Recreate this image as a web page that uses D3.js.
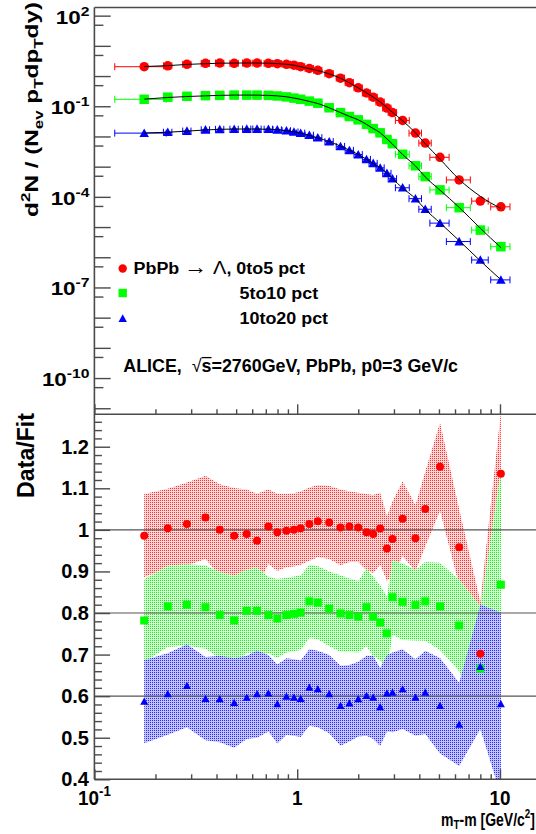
<!DOCTYPE html>
<html><head><meta charset="utf-8">
<script src="https://cdn.jsdelivr.net/npm/d3@7"></script>
<style>
html,body{margin:0;padding:0;background:#fff;}
svg{display:block;}
text{font-family:"Liberation Sans",Arial,Helvetica,sans-serif;font-weight:bold;fill:#000;white-space:pre;}
</style></head><body>
<div id="chart"></div>
<script>
// ---------------- data ----------------
const mtm = [0.176, 0.23, 0.286, 0.353, 0.415, 0.489, 0.564, 0.634, 0.721, 0.798, 0.885, 0.964, 1.04, 1.148, 1.264, 1.438, 1.635, 1.809, 2.0, 2.197, 2.37, 2.565, 2.77, 2.95, 3.31, 3.83, 4.28, 5.06, 6.29, 8.0, 10.1];
const xErr = [0.05, 0.011, 0.0135, 0.0166, 0.0195, 0.023, 0.0265, 0.03, 0.034, 0.0375, 0.042, 0.045, 0.049, 0.054, 0.059, 0.068, 0.077, 0.085, 0.094, 0.10, 0.11, 0.12, 0.13, 0.14, 0.26, 0.27, 0.30, 0.55, 0.85, 0.75, 1.1];

const seriesNames = ["0to5 pct", "5to10 pct", "10to20 pct"];
const seriesColors = ["#ff0000", "#00ff00", "#0000ff"];
const bandBase = ["#ffd6d6", "#d2ffd2", "#c2c2ff"];
const bandDot = ["#ff3030", "#20e620", "#2a2aff"];
const seriesShapes = ["circle", "square", "triangle"];

const spec0to5 = [2.04, 2.19, 2.45, 2.63, 2.69, 2.63, 2.69, 2.69, 2.63, 2.57, 2.45, 2.29, 2.04, 1.78, 1.55, 1.20, 0.851, 0.603, 0.407, 0.275, 0.200, 0.138, 0.0871, 0.0617, 0.0339, 0.0129, 0.00603, 0.00204, 3.63e-4, 7.24e-5, 4.68e-5];
const spec5to10 = [0.170, 0.200, 0.214, 0.224, 0.229, 0.234, 0.234, 0.234, 0.229, 0.219, 0.204, 0.186, 0.170, 0.148, 0.126, 0.0891, 0.0617, 0.0457, 0.0355, 0.0251, 0.0182, 0.0132, 0.00794, 0.00575, 0.00257, 0.00107, 4.68e-4, 1.70e-4, 4.37e-5, 7.94e-6, 2.24e-6];
const spec10to20 = [0.0129, 0.0138, 0.0151, 0.0166, 0.0172, 0.0174, 0.0176, 0.0176, 0.0174, 0.0166, 0.0155, 0.0141, 0.0129, 0.0110, 0.00912, 0.00676, 0.00468, 0.00347, 0.00251, 0.00174, 0.00129, 9.12e-4, 6.03e-4, 3.98e-4, 2.00e-4, 8.71e-5, 3.89e-5, 1.35e-5, 3.31e-6, 8.13e-7, 1.78e-7];

const fit0to5 = [2.07, 2.21, 2.43, 2.57, 2.66, 2.69, 2.71, 2.70, 2.66, 2.58, 2.45, 2.29, 2.04, 1.76, 1.51, 1.18, 0.845, 0.600, 0.406, 0.278, 0.201, 0.138, 0.0902, 0.0631, 0.0331, 0.0132, 0.00575, 0.00178, 3.80e-4, 1.04e-4, 4.12e-5];
const fit5to10 = [0.172, 0.195, 0.210, 0.221, 0.229, 0.234, 0.234, 0.233, 0.229, 0.221, 0.206, 0.187, 0.169, 0.1445, 0.123, 0.0891, 0.0617, 0.0462, 0.0355, 0.0251, 0.0183, 0.0133, 0.00832, 0.00556, 0.00251, 0.00105, 4.57e-4, 1.67e-4, 4.50e-5, 9.12e-6, 2.09e-6];
const fit10to20 = [0.0130, 0.0138, 0.0150, 0.0164, 0.0172, 0.0176, 0.0176, 0.0175, 0.0173, 0.0167, 0.0156, 0.0142, 0.0129, 0.0108, 0.00902, 0.00676, 0.00479, 0.00351, 0.00253, 0.00176, 0.00129, 9.23e-4, 6.03e-4, 3.98e-4, 1.96e-4, 8.73e-5, 3.85e-5, 1.38e-5, 3.56e-6, 7.59e-7, 1.81e-7];

// Data/Fit as plotted (0to5 around 1.0, 5to10 around 0.8, 10to20 around 0.6)
const ratio0to5 = [0.986, 1.004, 1.014, 1.030, 1.000, 0.986, 0.990, 0.974, 1.008, 0.994, 0.998, 1.000, 1.004, 1.014, 1.021, 1.018, 1.006, 1.008, 1.006, 0.994, 0.990, 1.003, 0.955, 0.978, 1.027, 0.980, 1.050, 1.152, 0.958, 0.702, 1.135];
const ratio5to10 = [0.782, 0.816, 0.820, 0.814, 0.795, 0.782, 0.805, 0.805, 0.795, 0.787, 0.795, 0.798, 0.801, 0.828, 0.825, 0.810, 0.799, 0.795, 0.791, 0.814, 0.791, 0.777, 0.751, 0.838, 0.827, 0.819, 0.828, 0.816, 0.770, 0.666, 0.868];
const ratio10to20 = [0.587, 0.605, 0.625, 0.594, 0.593, 0.584, 0.597, 0.605, 0.607, 0.581, 0.599, 0.597, 0.594, 0.621, 0.617, 0.605, 0.577, 0.583, 0.593, 0.601, 0.597, 0.574, 0.607, 0.609, 0.617, 0.597, 0.609, 0.577, 0.532, 0.671, 0.581];

const bandErr0to5 = [0.100, 0.095, 0.100, 0.100, 0.110, 0.115, 0.107, 0.113, 0.090, 0.093, 0.088, 0.088, 0.088, 0.088, 0.087, 0.088, 0.091, 0.085, 0.083, 0.092, 0.094, 0.087, 0.078, 0.091, 0.090, 0.080, 0.090, 0.106, 0.092, 0.125, 0.150];
const bandErr5to10 = [0.100, 0.098, 0.098, 0.100, 0.104, 0.108, 0.100, 0.105, 0.092, 0.095, 0.090, 0.090, 0.090, 0.088, 0.088, 0.090, 0.092, 0.088, 0.086, 0.094, 0.096, 0.090, 0.088, 0.090, 0.092, 0.085, 0.095, 0.105, 0.110, 0.150, 0.280];
const bandErr10to20 = [0.100, 0.098, 0.100, 0.100, 0.104, 0.108, 0.100, 0.105, 0.092, 0.095, 0.092, 0.092, 0.092, 0.092, 0.092, 0.094, 0.096, 0.092, 0.090, 0.096, 0.100, 0.094, 0.092, 0.096, 0.096, 0.092, 0.100, 0.115, 0.100, 0.150, 0.220];

const refLines = [1.0, 0.8, 0.6];
const topTickExps = [2, -1, -4, -7, -10];
const ratioTicks = [0.4, 0.5, 0.6, 0.7, 0.8, 0.9, 1.0, 1.1, 1.2];
const xTickLabels = [[0.1, "10", "-1"], [1, "1", ""], [10, "10", ""]];

const spectra = [spec0to5, spec5to10, spec10to20];
const fits = [fit0to5, fit5to10, fit10to20];
const ratios = [ratio0to5, ratio5to10, ratio10to20];
const bandErrs = [bandErr0to5, bandErr5to10, bandErr10to20];

// ---------------- layout ----------------
const W = 536, H = 834;
const X0 = 94.4, Y0 = 7.5, YM = 414.3, YB = 779.3;
const x = d3.scaleLog().domain([0.1, 20]).range([X0, X0 + 2.301 * 202.8]);
const yTop = d3.scaleLog().domain([Math.pow(10, -11.2), Math.pow(10, 2.27)]).range([YM, Y0]);
const yBot = d3.scaleLinear().domain([0.4, 1.278]).range([YB, YM]);

const svg = d3.select("#chart").append("svg").attr("width", W).attr("height", H);
svg.append("rect").attr("width", W).attr("height", H).attr("fill", "#fff");
const defs = svg.append("defs");
seriesColors.forEach((c, i) => {
  const p = defs.append("pattern").attr("id", "pat" + i).attr("patternUnits", "userSpaceOnUse")
    .attr("width", 2).attr("height", 2);
  p.append("rect").attr("x", 0).attr("y", 0).attr("width", 2).attr("height", 2).attr("fill", bandBase[i]);
  p.append("rect").attr("x", 0).attr("y", 0).attr("width", 1).attr("height", 1).attr("fill", bandDot[i]);
});
defs.append("clipPath").attr("id", "clipTop").append("rect")
  .attr("x", X0).attr("y", Y0).attr("width", W - X0).attr("height", YM - Y0);
defs.append("clipPath").attr("id", "clipBot").append("rect")
  .attr("x", X0).attr("y", YM).attr("width", W - X0).attr("height", YB - YM);

function marker(g, shape, cx, cy, s, color) {
  if (shape === "circle") {
    g.append("circle").attr("cx", cx).attr("cy", cy).attr("r", s / 2).attr("fill", color);
  } else if (shape === "square") {
    g.append("rect").attr("x", cx - s / 2).attr("y", cy - s / 2).attr("width", s).attr("height", s).attr("fill", color);
  } else {
    const h = s * 0.9;
    g.append("path").attr("d", `M${cx},${cy - h * 0.55}L${cx + s / 2},${cy + h * 0.45}L${cx - s / 2},${cy + h * 0.45}Z`).attr("fill", color);
  }
}

// ---------------- top panel ----------------
const gTop = svg.append("g").attr("clip-path", "url(#clipTop)");
spectra.forEach((vals, si) => {
  const col = seriesColors[si];
  const g = gTop.append("g");
  vals.forEach((v, i) => {
    const xl = x(mtm[i] - xErr[i]), xr = x(mtm[i] + xErr[i]), yy = yTop(v);
    g.append("line").attr("x1", xl).attr("x2", xr).attr("y1", yy).attr("y2", yy).attr("stroke", col).attr("stroke-width", 1);
    [xl, xr].forEach(xx => g.append("line").attr("x1", xx).attr("x2", xx).attr("y1", yy - 3.5).attr("y2", yy + 3.5).attr("stroke", col).attr("stroke-width", 1));
  });
  vals.forEach((v, i) => marker(g, seriesShapes[si], x(mtm[i]), yTop(v), 9.5, col));
});
const fitLine = d3.line().x(d => x(d[0])).y(d => yTop(d[1])).curve(d3.curveMonotoneX);
fits.forEach(f => {
  gTop.append("path").attr("d", fitLine(mtm.map((m, i) => [m, f[i]])))
    .attr("fill", "none").attr("stroke", "#000").attr("stroke-width", 1);
});

// ---------------- bottom panel ----------------
const gBot = svg.append("g").attr("clip-path", "url(#clipBot)");
const band = d3.area().x(d => x(d[0])).y0(d => yBot(d[1] - d[2])).y1(d => yBot(d[1] + d[2]));
ratios.forEach((r, si) => {
  gBot.append("path").attr("d", band(mtm.map((m, i) => [m, r[i], bandErrs[si][i]])))
    .attr("fill", `url(#pat${si})`);
});
refLines.forEach(v => gBot.append("line").attr("x1", X0).attr("x2", W).attr("y1", yBot(v)).attr("y2", yBot(v))
  .attr("stroke", "#555").attr("stroke-width", 1.2));
ratios.forEach((r, si) => {
  r.forEach((v, i) => marker(gBot, seriesShapes[si], x(mtm[i]), yBot(v), 8, seriesColors[si]));
});

// ---------------- axes / ticks ----------------
const axCol = "#4a4a4a";
function styleAxis(g) {
  g.select(".domain").remove();
  g.selectAll(".tick line").attr("stroke", axCol).attr("stroke-width", 1.4);
  g.selectAll(".tick text").remove();
}
const decades = d3.range(-11, 3).map(e => Math.pow(10, e));
const fives = d3.range(-11, 2).map(e => 5 * Math.pow(10, e)).filter(v => v >= yTop.domain()[0]);
svg.append("g").attr("transform", `translate(${X0},0)`).call(d3.axisRight(yTop).tickValues(decades).tickSize(16.3).tickFormat("")).call(styleAxis);
svg.append("g").attr("transform", `translate(${X0},0)`).call(d3.axisRight(yTop).tickValues(fives).tickSize(9).tickFormat("")).call(styleAxis);

const rMinor = d3.range(0, 45).map(i => +(0.4 + i * 0.02).toFixed(2)).filter(v => v <= 1.278 && Math.abs(v * 10 - Math.round(v * 10)) > 1e-6);
svg.append("g").attr("transform", `translate(${X0},0)`).call(d3.axisRight(yBot).tickValues(ratioTicks).tickSize(15.7).tickFormat("")).call(styleAxis);
svg.append("g").attr("transform", `translate(${X0},0)`).call(d3.axisRight(yBot).tickValues(rMinor).tickSize(7.5).tickFormat("")).call(styleAxis);

const xMajor = [0.1, 1, 10];
const xMinor = [];
[0.1, 1, 10].forEach(d => { for (let k = 2; k <= 9; k++) xMinor.push(d * k); });
[YM, YB].forEach(yy => {
  svg.append("g").attr("transform", `translate(0,${yy})`).call(d3.axisTop(x).tickValues(xMajor).tickSize(10).tickFormat("")).call(styleAxis);
  svg.append("g").attr("transform", `translate(0,${yy})`).call(d3.axisTop(x).tickValues(xMinor).tickSize(5).tickFormat("")).call(styleAxis);
});

// frame
[[X0, Y0, X0, YB], [X0, Y0, W, Y0], [X0, YM, W, YM], [X0, YB, W, YB]].forEach(([a, b, c, d]) =>
  svg.append("line").attr("x1", a).attr("y1", b).attr("x2", c).attr("y2", d).attr("stroke", axCol).attr("stroke-width", 1.6));

// ---------------- text ----------------
function placeText(parts, fs, px, py, anchor, opt) {
  opt = opt || {};
  const g = svg.append("g");
  const t = g.append("text").attr("text-anchor", anchor).attr("font-size", fs);
  let cur = 0;
  const subShift = opt.subShift || 0.28;
  parts.forEach(p => {
    const [s, type, weight, size] = p;
    const shift = type === "sup" ? -0.42 * fs : type === "sub" ? subShift * fs : 0;
    const ts = t.append("tspan").text(s).attr("dy", shift - cur).attr("font-size", size || (type ? fs * 0.7 : fs));
    if (weight) ts.attr("font-weight", weight);
    cur = shift;
  });
  let sx = opt.sx || 1;
  if (opt.w) sx = opt.w / t.node().getBBox().width;
  g.attr("transform", `translate(${px},${py})` + (opt.rot ? ` rotate(${opt.rot})` : "") + ` scale(${sx},1)`);
  return { g, t, sx };
}

// axis titles
placeText([["d"], ["2", "sup"], ["N / (N"], ["ev", "sub"], [" p"], ["T", "sub"], ["dp"], ["T", "sub"], ["dy)"]], 19, 38, 2, "end", { rot: -90, w: 215 });
placeText([["Data/Fit"]], 24, 34, 413, "end", { rot: -90, w: 85 });
placeText([["m"], ["T", "sub"], ["-m [GeV/c"], ["2", "sup"], ["]"]], 18, 535, 825.5, "end", { w: 94, subShift: 0.22 });

// tick labels
topTickExps.forEach(e => placeText([["10"], [String(e), "sup"]], 19, 89.5, yTop(Math.pow(10, e)) + 8, "end", { sx: 1.18 }));
const fmtR = d3.format("~g");
ratioTicks.forEach(v => placeText([[fmtR(v)]], 20, 89, yBot(v) + 7, "end"));
xTickLabels.forEach(([v, base, sup]) => placeText(sup ? [[base], [sup, "sup"]] : [[base]], 21, x(v), 804.5, "middle", { sx: 0.9 }));

// legend
const legY = [268.5, 293, 318.5];
seriesShapes.forEach((s, i) => marker(svg, s, 122.7, legY[i], 8.4, seriesColors[i]));
placeText([["PbPb "], ["\u2192", "", "normal", 22], [" \u039B", "", "normal", 19], [", " + seriesNames[0]]], 17, 133.5, 274, "start", { w: 172 });
placeText([[seriesNames[1]]], 17, 239.5, 299, "start", { w: 79 });
placeText([[seriesNames[2]]], 17, 239.5, 324, "start", { w: 89 });

// annotation
const ann = placeText([["ALICE,  "], ["\u221A", "", "normal"], ["s=2760GeV, PbPb, p0=3 GeV/c"]], 18, 123.3, 372, "start", { w: 335 });
{
  const n = ann.t.node();
  const a = n.getStartPositionOfChar(8), b = n.getEndPositionOfChar(9);
  ann.g.append("line").attr("x1", a.x + 0.55 * 18).attr("x2", b.x).attr("y1", -0.8 * 18).attr("y2", -0.8 * 18)
    .attr("stroke", "#000").attr("stroke-width", 1.3);
}
</script>
</body></html>
